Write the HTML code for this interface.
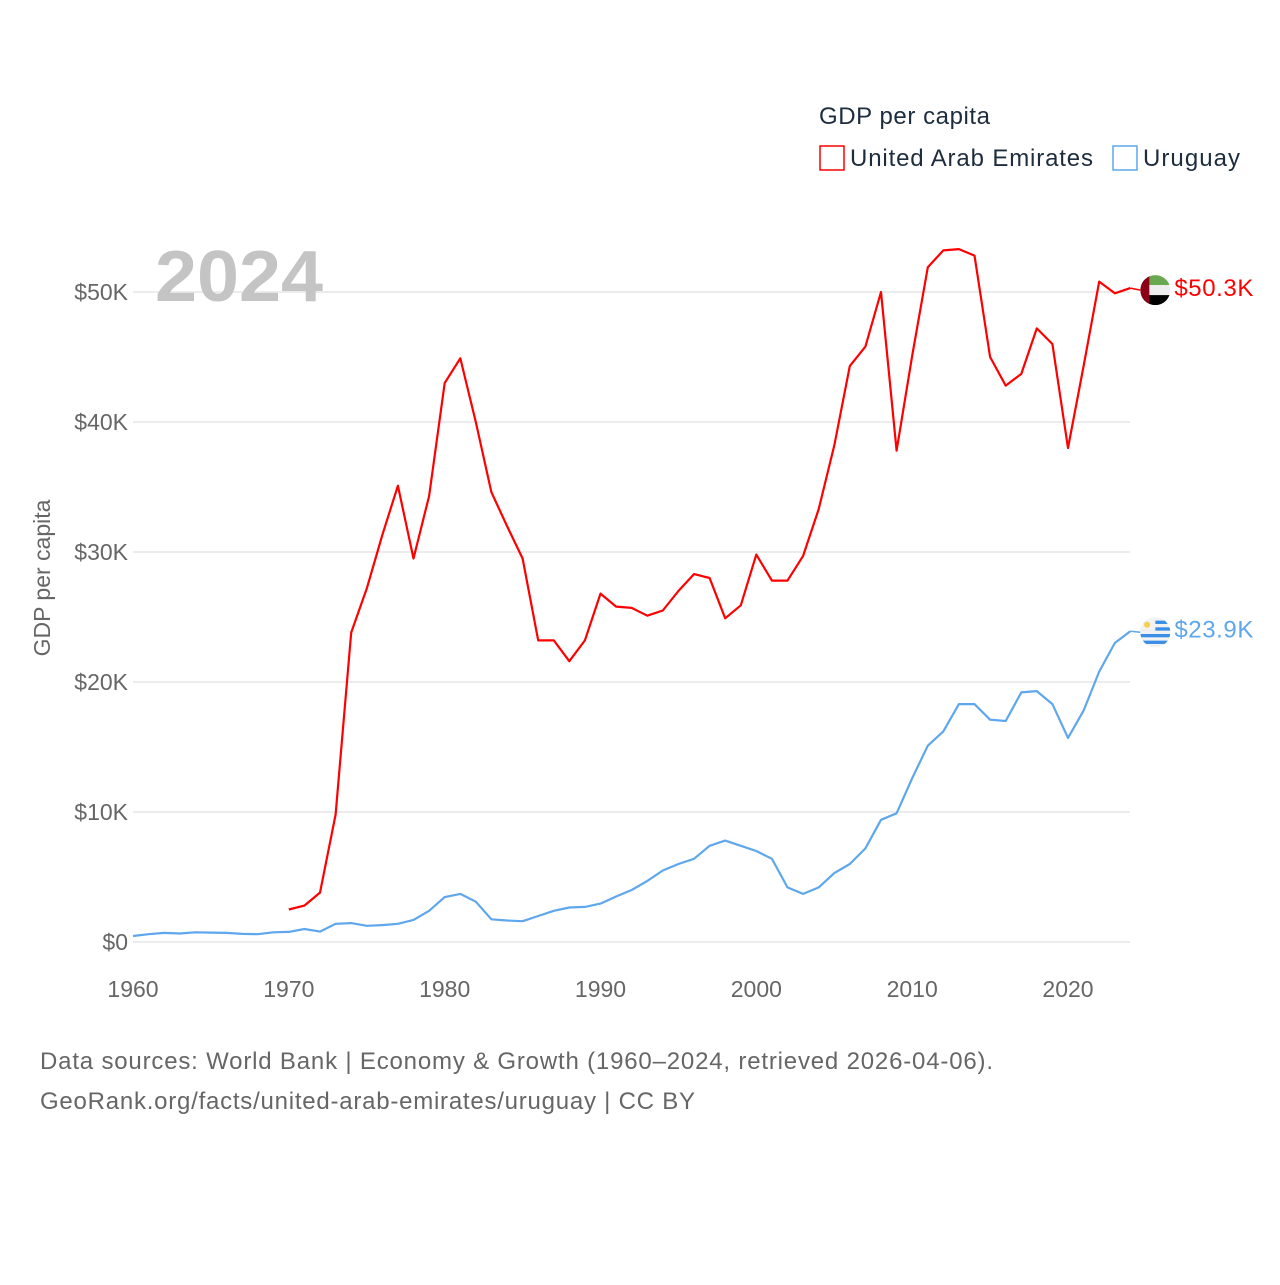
<!DOCTYPE html>
<html><head><meta charset="utf-8">
<style>
html,body{margin:0;padding:0;background:#fff;}
body{width:1280px;height:1280px;overflow:hidden;font-family:"Liberation Sans",sans-serif;}
svg text{font-family:"Liberation Sans",sans-serif;}
</style></head>
<body>
<svg id="chart" width="1280" height="1280" viewBox="0 0 1280 1280">
  <g id="grid"></g>
  <g id="yticks"></g>
  <g id="xticks"></g>
  <text x="155" y="301" font-size="72" font-weight="bold" fill="#c4c4c4" textLength="168" lengthAdjust="spacingAndGlyphs">2024</text>
  <text transform="translate(50,578) rotate(-90)" font-size="23" fill="#666" text-anchor="middle">GDP per capita</text>
  <g id="series"></g>
  <g>
    <text x="819" y="124" font-size="24" fill="#1e2d3d" textLength="171">GDP per capita</text>
    <g>
      <rect x="820" y="146" width="24" height="24" fill="none" stroke="#ff0000" stroke-width="1.5"/>
      <text x="850" y="166" font-size="24" fill="#1e2d3d" textLength="243">United Arab Emirates</text>
    </g>
    <g>
      <rect x="1113" y="146" width="24" height="24" fill="none" stroke="#5ea7ec" stroke-width="1.5"/>
      <text x="1143" y="166" font-size="24" fill="#1e2d3d" textLength="97">Uruguay</text>
    </g>
  </g>
  <text x="40" y="1069" font-size="24" fill="#666" textLength="953">Data sources: World Bank | Economy &amp; Growth (1960–2024, retrieved 2026-04-06).</text>
  <text x="40" y="1109" font-size="24" fill="#666" textLength="655">GeoRank.org/facts/united-arab-emirates/uruguay | CC BY</text>
</svg>
<script>
const yearsStart = 1960;
const uaeStart = 1970;
const uaeValues = [2.5,2.8,3.8,9.8,23.8,27.2,31.3,35.1,29.5,34.3,43.0,44.9,40.0,34.6,32.0,29.5,23.2,23.2,21.6,23.2,26.8,25.8,25.7,25.1,25.5,27.0,28.3,28.0,24.9,25.9,29.8,27.8,27.8,29.7,33.3,38.2,44.3,45.8,50.0,37.8,45.1,51.9,53.2,53.3,52.8,45.0,42.8,43.7,47.2,46.0,38.0,44.3,50.8,49.9,50.3];
const uryValues = [0.46,0.6,0.7,0.65,0.75,0.72,0.7,0.62,0.6,0.75,0.78,1.0,0.8,1.4,1.45,1.25,1.3,1.4,1.7,2.4,3.45,3.7,3.1,1.75,1.65,1.6,2.0,2.4,2.65,2.7,2.95,3.5,4.0,4.7,5.5,6.0,6.4,7.4,7.8,7.4,7.0,6.4,4.2,3.7,4.2,5.3,6.0,7.2,9.4,9.9,12.6,15.1,16.2,18.3,18.3,17.1,17.0,19.2,19.3,18.3,15.7,17.8,20.8,23.0,23.9];
const yTicks = [0,10,20,30,40,50];
const yTickLabels = ["$0","$10K","$20K","$30K","$40K","$50K"];
const xTicks = [1960,1970,1980,1990,2000,2010,2020];
const lastLabels = ["$50.3K","$23.9K"];

const NS = "http://www.w3.org/2000/svg";
const X0 = 133, PX_PER_YEAR = (1068-133)/60, Y0 = 942, PX_PER_K = 13, XR = 1130;
function xs(yr){ return X0 + (yr-1960)*PX_PER_YEAR; }
function ys(v){ return Y0 - v*PX_PER_K; }
function mk(tag, attrs, parent){ const e=document.createElementNS(NS,tag); for(const k in attrs) e.setAttribute(k,attrs[k]); parent.appendChild(e); return e; }

const grid=document.getElementById('grid'), yt=document.getElementById('yticks'), xt=document.getElementById('xticks'), ser=document.getElementById('series');
yTicks.forEach((v,i)=>{
  const l=mk('line',{x1:X0,x2:XR,y1:ys(v),y2:ys(v),stroke:'#e6e6e6','stroke-width':1.5},grid);
  
  
  const t=mk('text',{x:128,y:ys(v)+8,'font-size':23,fill:'#666','text-anchor':'end'},yt);
  t.textContent=yTickLabels[i];
  
  
});
xTicks.forEach(yr=>{
  const t=mk('text',{x:xs(yr),y:997,'font-size':23,fill:'#666','text-anchor':'middle'},xt);
  t.textContent=String(yr);
  
  
});
function drawLine(vals,start,color,name){
  const pts=vals.map((v,i)=>xs(start+i).toFixed(1)+','+ys(v).toFixed(1)).join(' ');
  const p=mk('polyline',{points:pts,fill:'none',stroke:color,'stroke-width':2.2,'stroke-linejoin':'round'},ser);
  
  
  return {x:xs(start+vals.length-1), y:ys(vals[vals.length-1])};
}
const e1=drawLine(uaeValues,uaeStart,'#ff0000','uae-line');
const e2=drawLine(uryValues,yearsStart,'#5ea7ec','uruguay-line');

(function(){
  const cx=e1.x+25, cy=e1.y+2, r=15;
  const g=mk('g',{},ser);
  
  
  mk('line',{x1:e1.x,y1:e1.y,x2:cx-r,y2:cy,stroke:'#ff0000','stroke-width':1.5},g);
  const cp=mk('clipPath',{id:'c1'},g); mk('circle',{cx:cx,cy:cy,r:r},cp);
  const gg=mk('g',{'clip-path':'url(#c1)'},g);
  mk('rect',{x:cx-r,y:cy-r,width:2*r,height:2*r/3,fill:'#6aa84f'},gg);
  mk('rect',{x:cx-r,y:cy-r/3,width:2*r,height:2*r/3,fill:'#eee'},gg);
  mk('rect',{x:cx-r,y:cy+r/3,width:2*r,height:2*r/3,fill:'#000'},gg);
  mk('rect',{x:cx-r,y:cy-r,width:r*0.6,height:2*r,fill:'#8b0016'},gg);
  const t=mk('text',{x:cx+r+4,y:e1.y+8,'font-size':24,fill:'#ff0000',textLength:79},g);
  t.textContent=lastLabels[0];
  
  
})();
(function(){
  const cx=e2.x+25, cy=e2.y+1, r=15;
  const g=mk('g',{},ser);
  
  
  mk('line',{x1:e2.x,y1:e2.y,x2:cx-r,y2:cy,stroke:'#5ea7ec','stroke-width':1.5},g);
  const cp=mk('clipPath',{id:'c2'},g); mk('circle',{cx:cx,cy:cy,r:r},cp);
  const gg=mk('g',{'clip-path':'url(#c2)'},g);
  mk('rect',{x:cx-r,y:cy-r,width:2*r,height:2*r,fill:'#f2f2f2'},gg);
  for(let i=1;i<9;i+=2) mk('rect',{x:cx-r,y:cy-r+i*2*r/9,width:2*r,height:2*r/9,fill:'#3a8ee6'},gg);
  mk('rect',{x:cx-r,y:cy-r,width:r,height:r*0.9,fill:'#f2f2f2'},gg);
  mk('circle',{cx:cx-r*0.55,cy:cy-r*0.5,r:3,fill:'#f7d04a'},gg);
  const t=mk('text',{x:cx+r+4,y:e2.y+6,'font-size':24,fill:'#5ea7ec',textLength:79},g);
  t.textContent=lastLabels[1];
  
  
})();
</script>
</body></html>
